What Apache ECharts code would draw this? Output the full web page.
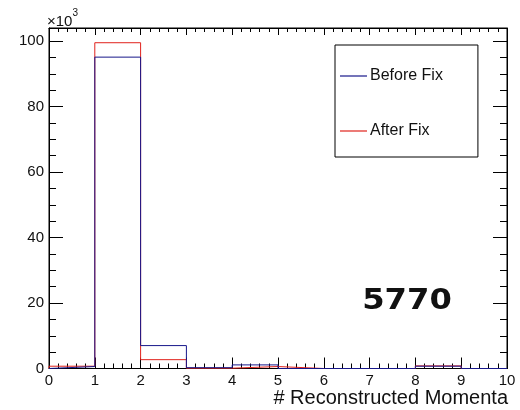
<!DOCTYPE html>
<html>
<head>
<meta charset="utf-8">
<script src="https://cdn.jsdelivr.net/npm/echarts@6/dist/echarts.min.js"></script>
<style>
  html, body { margin: 0; padding: 0; background: #fff; }
  #chart { width: 520px; height: 410px; }
</style>
</head>
<body>
<div id="chart"></div>
<script>
// bin edges of the histogram (0..10), one value per bin, in units of 10^3
const binEdges = [0, 1, 2, 3, 4, 5, 6, 7, 8, 9, 10];
const beforeFix = [0.6, 95.1, 7.0, 0.25, 1.1, 0, 0, 0, 0.7, 0];
const afterFix = [0.7, 99.5, 2.7, 0.1, 0.6, 0, 0, 0, 0.8, 0];
const xTicks = [0, 1, 2, 3, 4, 5, 6, 7, 8, 9, 10];
const yTicks = [0, 20, 40, 60, 80, 100];

const FONT = '"Liberation Sans", Arial, Helvetica, sans-serif';
const BLUE = '#17178a';
const RED = '#e0221c';
const Y_MAX = 104;

// turn bin contents into step outline points (ROOT-like histogram)
function outline(values) {
  const pts = [[binEdges[0], 0]];
  values.forEach((v, i) => pts.push([binEdges[i], v]));
  pts.push([binEdges[binEdges.length - 1], values[values.length - 1]]);
  pts.push([binEdges[binEdges.length - 1], 0]);
  return pts;
}

const chart = echarts.init(document.getElementById('chart'), null, { renderer: 'canvas' });

const black = { color: '#000', width: 1 };
// one axis per side, ticks drawn inside the frame like ROOT
function axis(kind, position, major, minor, label) {
  const isX = kind === 'x';
  return {
    type: 'value',
    position,
    min: isX ? xTicks[0] : yTicks[0],
    max: isX ? xTicks[xTicks.length - 1] : Y_MAX,
    interval: isX ? 1 : 20,
    splitLine: { show: false },
    axisLine: { show: true, onZero: false, lineStyle: black },
    axisTick: { inside: true, length: major, lineStyle: black },
    minorTick: { show: true, splitNumber: isX ? 5 : 4, length: minor, lineStyle: black },
    axisLabel: label
      ? {
          margin: 5, color: '#111', fontSize: 15, fontFamily: FONT,
          showMaxLabel: isX,
          formatter: (v) => ((isX ? xTicks : yTicks).includes(v) ? String(v) : '')
        }
      : { show: false }
  };
}

const option = {
  animation: false,
  backgroundColor: '#fff',
  grid: {
    left: 49, right: 13, top: 28, bottom: 41.5,
    show: true, borderColor: '#000', borderWidth: 1, backgroundColor: 'transparent'
  },
  xAxis: [
    axis('x', 'bottom', 11, 5, true),
    axis('x', 'top', 7, 4, false)
  ],
  yAxis: [
    axis('y', 'left', 14, 7, true),
    axis('y', 'right', 14, 7, false)
  ],
  legend: {
    data: ['Before Fix', 'After Fix'],
    orient: 'vertical',
    left: 335,
    top: 45,
    padding: [23, 35, 18, 5],
    icon: 'rect',
    itemWidth: 27,
    itemHeight: 1.2,
    itemGap: 39,
    borderColor: '#000',
    borderWidth: 1,
    backgroundColor: '#fff',
    textStyle: { color: '#111', fontSize: 16, lineHeight: 14, fontFamily: FONT, padding: [0, 0, 0, -2] }
  },
  series: [
    {
      name: 'After Fix',
      type: 'line',
      step: 'end',
      symbol: 'none',
      data: outline(afterFix),
      lineStyle: { color: RED, width: 1 },
      itemStyle: { color: RED },
      z: 3
    },
    {
      name: 'Before Fix',
      type: 'line',
      step: 'end',
      symbol: 'none',
      data: outline(beforeFix),
      lineStyle: { color: BLUE, width: 1 },
      itemStyle: { color: BLUE },
      z: 4
    }
  ],
  graphic: [
    {
      type: 'text',
      left: 47,
      top: 8,
      style: {
        text: '{a|×10}{b|3}',
        rich: {
          a: { fontSize: 15, fontFamily: FONT, fill: '#111', padding: [6, 0, 0, 0] },
          b: { fontSize: 10, fontFamily: FONT, fill: '#111', verticalAlign: 'top' }
        }
      }
    },
    {
      type: 'text',
      right: 12,
      top: 388,
      style: {
        text: '# Reconstructed Momenta',
        fontSize: 20,
        fontFamily: FONT,
        fill: '#111'
      }
    },
    {
      type: 'text',
      x: 407,
      y: 302,
      style: {
        text: '5770',
        fontSize: 28,
        fontWeight: 'bold',
        fontFamily: '"DejaVu Sans", sans-serif',
        fill: '#111',
        align: 'center',
        verticalAlign: 'middle'
      },
      scaleX: 1.15
    }
  ]
};

chart.setOption(option);
</script>
</body>
</html>
